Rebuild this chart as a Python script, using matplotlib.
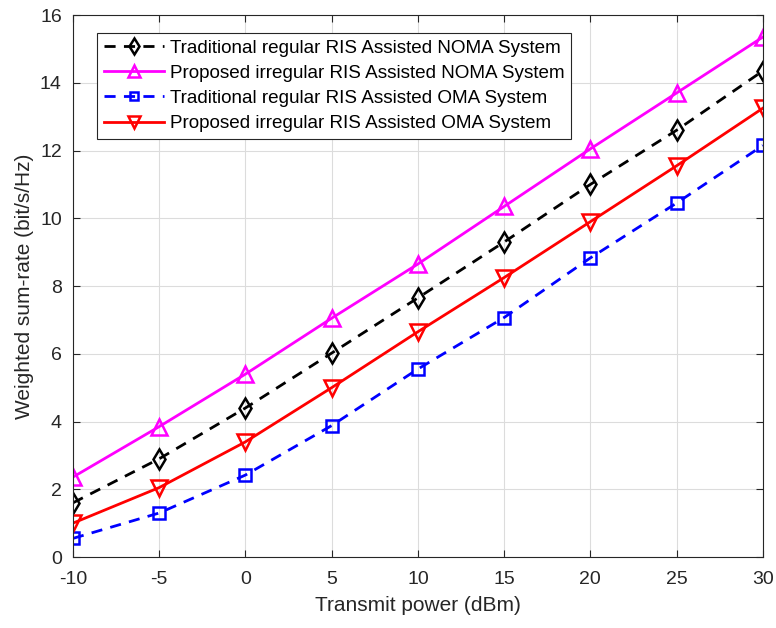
import matplotlib.pyplot as plt
import numpy as np

plt.rcParams['font.family'] = ['Liberation Sans', 'DejaVu Sans']
plt.rcParams['axes.unicode_minus'] = False

power = [-10, -5, 0, 5, 10, 15, 20, 25, 30]
trad_noma = [1.6, 2.9, 4.4, 6.02, 7.65, 9.3, 11.0, 12.6, 14.35]
prop_noma = [2.36, 3.85, 5.4, 7.05, 8.65, 10.35, 12.05, 13.7, 15.35]
trad_oma = [0.55, 1.3, 2.42, 3.88, 5.55, 7.07, 8.83, 10.45, 12.15]
prop_oma = [1.0, 2.05, 3.4, 5.0, 6.65, 8.25, 9.9, 11.55, 13.25]

fig = plt.figure(figsize=(7.76, 6.28), dpi=100)
ax = fig.add_axes([0.094, 0.113, 0.889, 0.863])

ax.plot(power, trad_noma, color='black', ls=(0, (4, 3)), lw=2, marker='d',
        ms=10, mfc='none', mew=1.8, label='Traditional regular RIS Assisted NOMA System')
ax.plot(power, prop_noma, color='magenta', ls='-', lw=2, marker='^',
        ms=11, mfc='none', mew=1.8, label='Proposed irregular RIS Assisted NOMA System')
ax.plot(power, trad_oma, color='blue', ls=(0, (4, 3)), lw=2, marker='s',
        ms=8, mfc='none', mew=1.8, label='Traditional regular RIS Assisted OMA System')
ax.plot(power, prop_oma, color='red', ls='-', lw=2, marker='v',
        ms=11, mfc='none', mew=1.8, label='Proposed irregular RIS Assisted OMA System')

ax.set_xlim(-10, 30)
ax.set_ylim(0, 16)
ax.set_xticks(power)
ax.set_yticks(np.arange(0, 17, 2))
ax.grid(True, color='#dcdcdc', lw=0.8)
ax.set_axisbelow(True)
ax.tick_params(direction='in', top=True, right=True, labelsize=14, colors='#262626', length=5)
ax.tick_params(axis='x', pad=10)
ax.tick_params(axis='y', pad=8)
for s in ax.spines.values():
    s.set_color('#262626')
    s.set_linewidth(0.8)

ax.set_xlabel('Transmit power (dBm)', fontsize=15, color='#262626', labelpad=6)
ax.set_ylabel('Weighted sum-rate (bit/s/Hz)', fontsize=15, color='#262626', labelpad=4)

leg = ax.legend(loc='upper left', bbox_to_anchor=(0.035, 0.967), fontsize=13.6,
                fancybox=False, edgecolor='#262626', framealpha=1, markerscale=0.8,
                handlelength=3.2, borderpad=0.35, labelspacing=0.42, handletextpad=0.3,
                borderaxespad=0)
leg.get_frame().set_linewidth(0.8)

fig.savefig('out.png', dpi=100)
